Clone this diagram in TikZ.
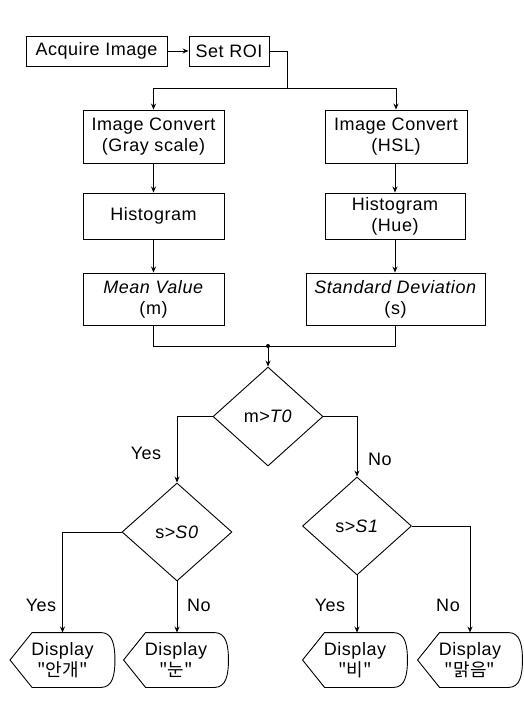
\documentclass[tikz,border=0pt]{standalone}
\usepackage{fontspec}
\setmainfont{Liberation Sans}[LetterSpace=3]
\newfontfamily\krfont{Noto Sans CJK KR}
\usetikzlibrary{shapes.geometric,arrows.meta,calc}
\newcommand\dispdraw[1]{\draw (#1.west) -- ($(#1.north west)+(22,0)$) -- ($(#1.north east)+(-14,0)$) .. controls ($(#1.north east)+(-2,0)$) and ($(#1.east)+(0,-14)$) .. (#1.east) .. controls ($(#1.east)+(0,14)$) and ($(#1.south east)+(-2,0)$) .. ($(#1.south east)+(-14,0)$) -- ($(#1.south west)+(22,0)$) -- cycle;}
\begin{document}
\begin{tikzpicture}[x=1pt,y=-1pt,
  font=\fontsize{18}{21}\selectfont, line width=0.9pt,
  box/.style={draw, rectangle, align=center, inner sep=0pt},
  dec/.style={draw, diamond, inner sep=0pt, align=center},
  dispbox/.style={rectangle, align=center, inner sep=0pt, minimum width=104pt, minimum height=54pt},
  arr/.style={-{Stealth[length=6pt,width=5pt]}},
  lbl/.style={inner sep=0pt}]
\useasboundingbox (0,0) rectangle (523,711);
% boxes
\node[box, minimum width=141pt, minimum height=30pt] (acq) at (96.5,51) {Acquire Image};
\node[box, minimum width=80pt, minimum height=30pt] (roi) at (229,51) {Set ROI};
\node[box, minimum width=141pt, minimum height=53pt] (ic1) at (153.5,136.5) {Image Convert\\(Gray scale)};
\node[box, minimum width=142pt, minimum height=53pt] (ic2) at (396,136.5) {Image Convert\\(HSL)};
\node[box, minimum width=141pt, minimum height=46pt] (h1) at (153.5,216) {Histogram};
\node[box, minimum width=140pt, minimum height=46pt] (h2) at (395,216) {Histogram\\(Hue)};
\node[box, minimum width=141pt, minimum height=52pt] (mv) at (153.5,299) {\textit{Mean Value}\\(m)};
\node[box, minimum width=179pt, minimum height=52pt] (sd) at (395.5,299) {\textit{Standard Deviation}\\(s)};
% decisions
\node[dec, minimum width=110pt, minimum height=99pt] (d1) at (268,416.5) {m>\textit{T0}};
\node[dec, minimum width=110pt, minimum height=98pt] (d2) at (177,532) {s>\textit{S0}};
\node[dec, minimum width=109pt, minimum height=98pt] (d3) at (357,526) {s>\textit{S1}};
% displays
\node[dispbox] (p1) at (62.5,660) {Display\\{\krfont "안개"}};
\node[dispbox] (p2) at (176,660) {Display\\{\krfont "눈"}};
\node[dispbox] (p3) at (355,660) {Display\\{\krfont "비"}};
\node[dispbox] (p4) at (470,660) {Display\\{\krfont "맑음"}};
\dispdraw{p1}\dispdraw{p2}\dispdraw{p3}\dispdraw{p4}
% connectors
\coordinate (split) at (287,88);
\coordinate (join) at (268,346);
\draw[arr] (acq) -- (roi);
\draw (roi.east) -| (split);
\draw[arr] (split) -| (ic1.north);
\draw[arr] (split) -| (ic2.north);
\draw[arr] (ic1) -- (h1);
\draw[arr] (ic2.south -| h2.north) -- (h2.north);
\draw[arr] (h1) -- (mv);
\draw[arr] (h2.south) -- (h2.south |- sd.north);
\draw (mv.south) |- (join);
\draw (sd.south) |- (join);
\fill (join) circle (2pt);
\draw[arr] (join) -- (d1.north);
\draw[arr] (d1.west) -| (d2.north);
\draw[arr] (d1.east) -| (d3.north);
\draw[arr] (d2.west) -| (p1.north);
\draw[arr] (d2.south) -- (d2.south |- p2.north);
\draw[arr] (d3.south) -- (d3.south |- p3.north);
\draw[arr] (d3.east) -| (p4.north);
% labels
\node[lbl] (y1) at (146,453) {Yes};
\node[lbl] (n1) at (380,459) {No};
\node[lbl] (y2) at (41,605) {Yes};
\node[lbl] (n2) at (199,605) {No};
\node[lbl] (y3) at (330,605) {Yes};
\node[lbl] (n3) at (448,605) {No};
\end{tikzpicture}
\end{document}
